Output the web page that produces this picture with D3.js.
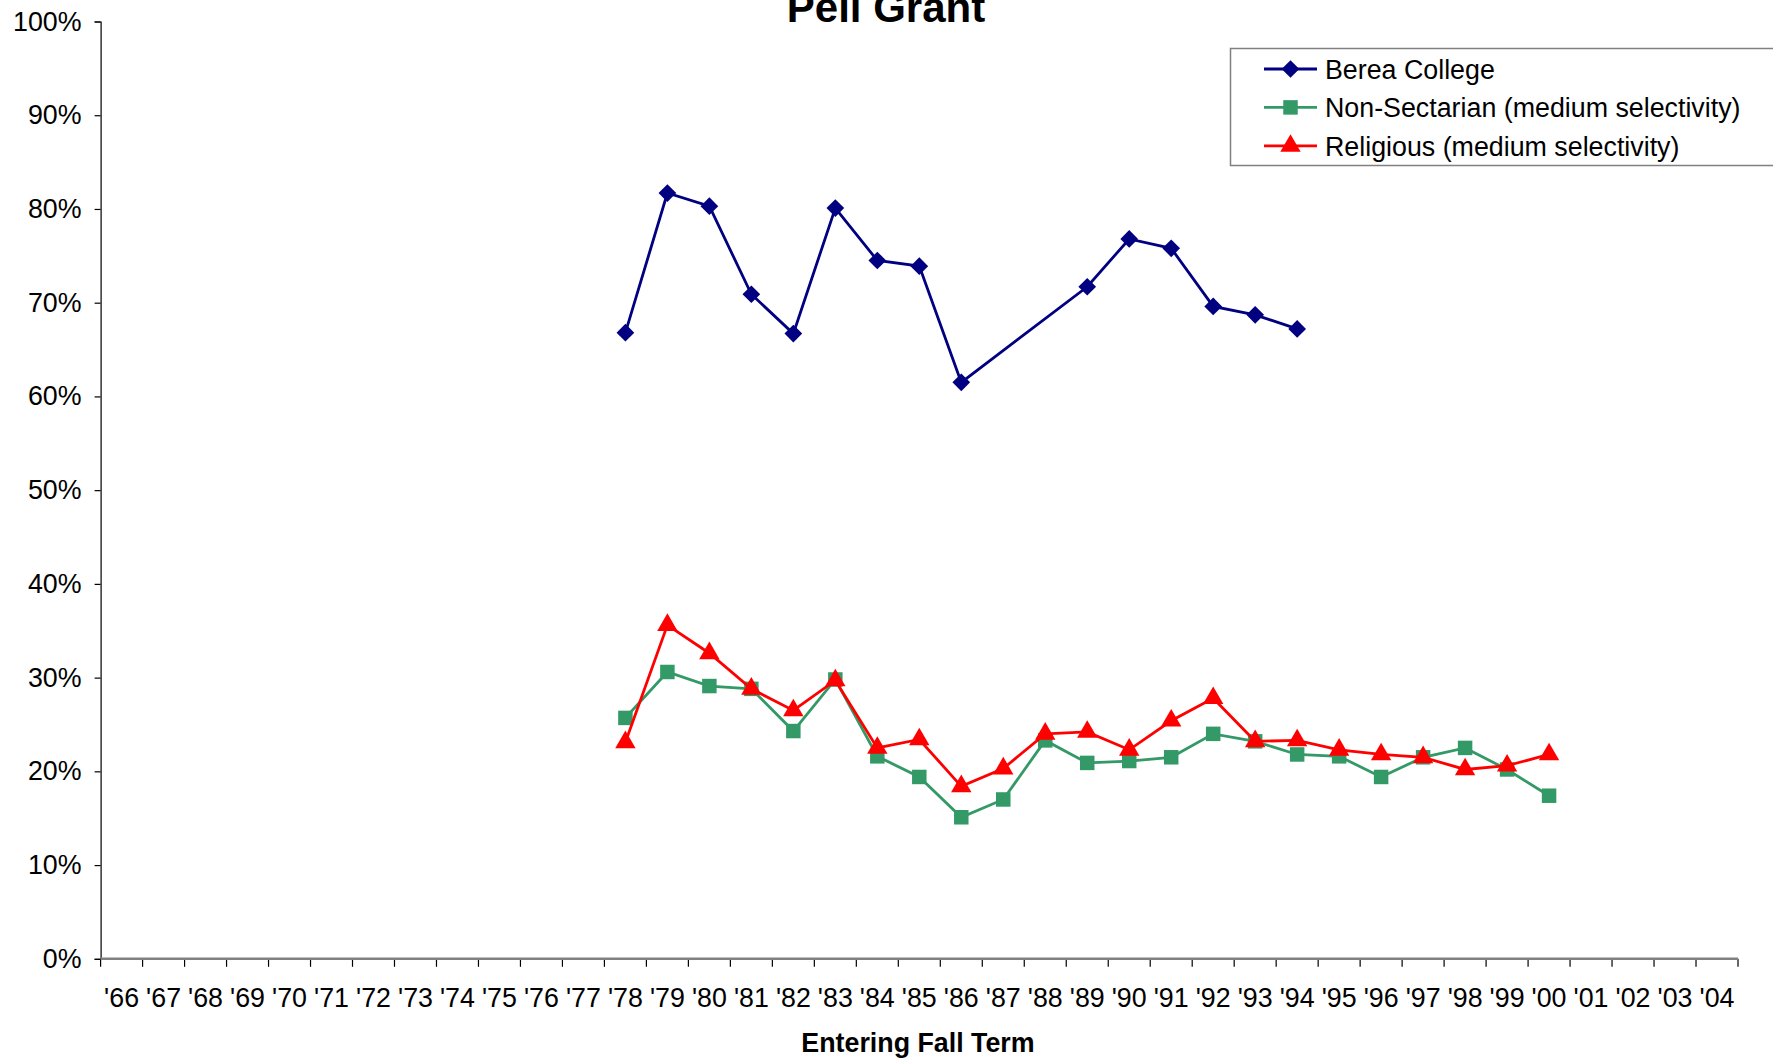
<!DOCTYPE html>
<html><head><meta charset="utf-8">
<script src="https://cdn.jsdelivr.net/npm/d3@7"></script>
<style>
body{margin:0;background:#fff;}
svg{display:block;font-family:"Liberation Sans",Arial,sans-serif;}
</style></head>
<body>
<svg id="chart" width="1773" height="1058"></svg>
<script>
const years = ["'66","'67","'68","'69","'70","'71","'72","'73","'74","'75","'76","'77","'78","'79","'80","'81","'82","'83","'84","'85","'86","'87","'88","'89","'90","'91","'92","'93","'94","'95","'96","'97","'98","'99","'00","'01","'02","'03","'04"];
const dataYears = ["'78","'79","'80","'81","'82","'83","'84","'85","'86","'87","'88","'89","'90","'91","'92","'93","'94","'95","'96","'97","'98","'99","'00"];
const berea = [66.8,81.7,80.3,70.9,66.7,80.1,74.5,73.9,61.5,null,null,71.7,76.8,75.8,69.6,68.7,67.2,null,null,null,null,null,null];
const nonSectarian = [25.7,30.6,29.1,28.8,24.3,29.8,21.6,19.4,15.1,17.0,23.3,20.9,21.1,21.5,24.0,23.2,21.8,21.6,19.4,21.5,22.5,20.2,17.4];
const religious = [23.1,35.6,32.6,28.8,26.5,29.7,22.5,23.4,18.4,20.3,24.0,24.2,22.3,25.4,27.8,23.2,23.3,22.3,21.8,21.5,20.2,20.6,21.8];
const yTicks = [0,10,20,30,40,50,60,70,80,90,100];
const seriesNames = ["Berea College","Non-Sectarian (medium selectivity)","Religious (medium selectivity)"];

(function(){
const series = [
  {name:seriesNames[0], values:berea, color:"#000080", symbol:d3.symbolDiamond2, size:200},
  {name:seriesNames[1], values:nonSectarian, color:"#339966", symbol:d3.symbolSquare, size:210},
  {name:seriesNames[2], values:religious, color:"#FF0000", symbol:d3.symbolTriangle, size:180}
];

const svg = d3.select("#chart");
const L = 100.6, R = 1738, T = 21.5, B = 958.8;
const x = d3.scaleBand().domain(years).range([L,R]).padding(0);
const y = d3.scaleLinear().domain([0,100]).range([B,T]);
const fs = 26.8;

// Y axis
const yAxis = svg.append("g").attr("transform",`translate(${L},0)`)
  .call(d3.axisLeft(y).tickValues(yTicks).tickFormat(d=>d+"%").tickSize(6).tickPadding(13));
yAxis.select(".domain").attr("stroke","#000").attr("stroke-width",1.2);
yAxis.selectAll(".tick line").attr("stroke","#000").attr("stroke-width",1.2);
yAxis.selectAll(".tick text").attr("font-size",fs).attr("font-family","Liberation Sans, Arial").attr("fill","#000");

// X axis labels
const xAxis = svg.append("g").attr("transform",`translate(0,${B})`)
  .call(d3.axisBottom(x).tickSize(0).tickPadding(29));
xAxis.select(".domain").remove();
xAxis.selectAll(".tick text").attr("font-size",fs).attr("font-family","Liberation Sans, Arial").attr("fill","#000");
// X tick marks at band boundaries
const edges = years.map(d=>x(d)).concat([x(years[years.length-1])+x.bandwidth()]);
svg.append("g").selectAll("line").data(edges).join("line")
  .attr("x1",d=>d).attr("x2",d=>d).attr("y1",B).attr("y2",B+8)
  .attr("stroke","#000").attr("stroke-width",1.2);
svg.append("line").attr("x1",L).attr("x2",R).attr("y1",B).attr("y2",B)
  .attr("stroke","#808080").attr("stroke-width",2.5);

// Lines and markers
const cx = d => x(d) + x.bandwidth()/2;
series.forEach(s=>{
  const pts = dataYears.map((yr,i)=>({yr, v:s.values[i]})).filter(p=>p.v!==null);
  svg.append("path").datum(pts)
    .attr("fill","none").attr("stroke",s.color).attr("stroke-width",2.8)
    .attr("d", d3.line().x(p=>cx(p.yr)).y(p=>y(p.v)));
  svg.append("g").selectAll("path").data(pts).join("path")
    .attr("transform",p=>`translate(${cx(p.yr)},${y(p.v)})`)
    .attr("d", d3.symbol().type(s.symbol).size(s.size))
    .attr("fill",s.color);
});

// Title
svg.append("text").attr("x",886).attr("y",22).attr("text-anchor","middle")
  .attr("font-size",42).attr("font-weight","bold").text("Pell Grant");
// X axis title
svg.append("text").attr("x",918).attr("y",1052).attr("text-anchor","middle")
  .attr("font-size",fs).attr("font-weight","bold").text("Entering Fall Term");

// Legend
const lg = svg.append("g");
lg.append("rect").attr("x",1230.5).attr("y",48.5).attr("width",560).attr("height",117)
  .attr("fill","#fff").attr("stroke","#808080").attr("stroke-width",1.5);
const rowsY = [69,107.4,145.9];
series.forEach((s,i)=>{
  const g = lg.append("g").attr("transform",`translate(0,${rowsY[i]})`);
  g.append("line").attr("x1",1264).attr("x2",1317).attr("y1",0).attr("y2",0)
    .attr("stroke",s.color).attr("stroke-width",2.8);
  g.append("path").attr("transform","translate(1290.5,0)")
    .attr("d",d3.symbol().type(s.symbol).size(s.size)).attr("fill",s.color);
  g.append("text").attr("x",1325).attr("y",0).attr("dy","0.36em")
    .attr("font-size",fs).text(s.name);
});
})();
</script>
</body></html>
